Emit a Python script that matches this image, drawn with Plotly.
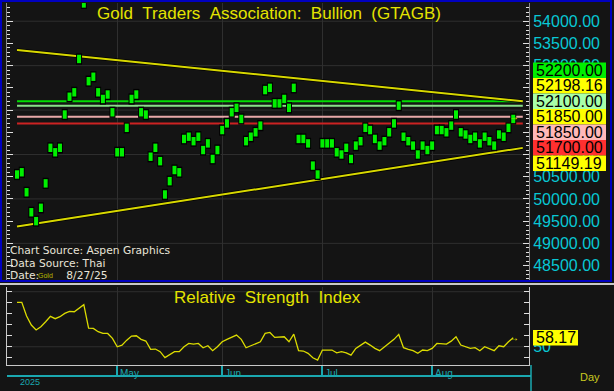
import plotly.graph_objects as go

# ---------------- data ----------------
# trading-day slots (index 0 = early April 2025, last = 8/27/25)
price = [50550, 50600, 50150, 49700, 49500, 49800, 50350, 51150, 51050, 51150,
         51900, 52300, 52400, 53150, 54400, 52650, 52750, 52400, 52250, 52350,
         51950, 51050, 51050, 51600, 52250, 52350, 51950, 51900, 50950, 51150,
         50850, 50100, 50400, 50650, 50600, 51350, 51400, 51300, 51400, 51100,
         51250, 50900, 51100, 51550, 51700, 51950, 52050, 51800, 51300, 51400,
         51500, 51650, 52450, 52500, 52150, 52150, 52250, 52050, 52500, 51350,
         51350, 51250, 50750, 50550, 51250, 51250, 51250, 51050, 51000, 51150,
         50900, 51200, 51300, 51600, 51550, 51350, 51200, 51300, 51500, 51700,
         52100, 51400, 51300, 51200, 51000, 51200, 51100, 51200, 51550, 51550,
         51500, 51650, 51900, 51500, 51450, 51350, 51400, 51250, 51400, 51300,
         51200, 51450, 51400, 51600, 51800]

rsi = [90.4, 90.4, 77.9, 69.7, 65.2, 68.2, 72.7, 77.6, 75.5, 77.3,
       80.3, 82.1, 81.8, 85.1, 88.2, 67.0, 66.7, 63.7, 62.1, 62.1,
       57.6, 50.0, 51.5, 56.0, 59.7, 60.0, 56.7, 55.2, 47.6, 47.9,
       45.5, 40.1, 42.5, 45.5, 45.5, 50.0, 53.0, 52.4, 53.0, 49.1,
       50.9, 46.4, 50.0, 54.5, 56.7, 58.5, 60.6, 56.7, 49.1, 50.9,
       52.4, 54.5, 62.1, 63.0, 58.5, 58.5, 59.1, 54.5, 61.5, 46.4,
       46.1, 44.0, 40.0, 37.9, 47.0, 47.0, 47.0, 44.5, 45.5, 44.5,
       42.4, 48.5, 51.5, 54.2, 51.5, 48.5, 46.4, 50.0, 53.0, 56.7,
       61.2, 49.1, 47.6, 46.4, 44.0, 47.0, 46.4, 48.5, 53.0, 53.0,
       52.4, 55.1, 59.1, 51.5, 50.0, 48.5, 49.1, 46.4, 50.0, 48.5,
       46.4, 50.9, 50.0, 54.5, 58.17]

slots = list(range(len(price)))

month_slots = [21, 43, 64, 87]
month_labels = ["May", "Jun", "Jul", "Aug"]

level_values = [52200.00, 52100.00, 51850.00, 51700.00]
level_colors = ["#00dd00", "#88e088", "#e8a8a8", "#cc2222"]
level_box_colors = ["#00ee00", "#a8ffa8", "#ffb8b8", "#ff3030"]
line_span = [0, 106]

trend_slots = [0, 106]
upper_trend = [53350.00, 52198.16]
lower_trend = [49380.00, 51149.19]

last_price = 51850.00
last_rsi = 58.17

rsi_ticks = [40, 50, 60, 70, 80, 90, 100]
rsi_ticktext = ["", "50", "", "", "", "", ""]
rsi_grid = [50, 100]
price_grid = [49000, 50000, 51000, 52000, 53000, 54000]

title_text = "Gold\u00a0\u00a0Traders\u00a0\u00a0Association:\u00a0\u00a0Bullion\u00a0\u00a0(GTAGB)"
rsi_title = "Relative\u00a0\u00a0Strength\u00a0\u00a0Index"
source_lines = ["Chart Source: Aspen Graphics", "Data Source: Thai", "Date:\u00a0\u00a0\u00a0\u00a0\u00a0\u00a0\u00a0\u00a08/27/25"]

# ---------------- style ----------------
W, H = 614, 391
def px(x): return x / W
def py(y): return 1 - y / H

BG = "#141414"
GRID = "#2f2f2f"
CYAN = "#08c8d4"
YEL = "#e4e400"
TEAL = "#1aa8b0"
FONT = "Liberation Sans, Arial, sans-serif"

fig = go.Figure()

# horizontal level lines
for v, c in zip(level_values, level_colors):
    fig.add_trace(go.Scatter(x=line_span, y=[v, v], mode="lines",
                             line=dict(color=c, width=2), hoverinfo="skip",
                             xaxis="x", yaxis="y"))
# trendlines (dark shadow + yellow)
for tr in (upper_trend, lower_trend):
    fig.add_trace(go.Scatter(x=trend_slots, y=tr, mode="lines",
                             line=dict(color="#000000", width=3.5), hoverinfo="skip",
                             xaxis="x", yaxis="y"))
    fig.add_trace(go.Scatter(x=trend_slots, y=tr, mode="lines",
                             line=dict(color="#d8d800", width=2), hoverinfo="skip",
                             xaxis="x", yaxis="y"))
# price marks
fig.add_trace(go.Scatter(x=slots, y=price, mode="markers", cliponaxis=True,
                         marker=dict(symbol="line-ns", size=8, color="#000000",
                                     line=dict(color="#000000", width=6)),
                         hoverinfo="skip", xaxis="x", yaxis="y"))
fig.add_trace(go.Scatter(x=slots, y=price, mode="markers", cliponaxis=True,
                         marker=dict(symbol="line-ns", size=6, color="#00f000",
                                     line=dict(color="#00f000", width=4)),
                         xaxis="x", yaxis="y"))
# RSI
fig.add_trace(go.Scatter(x=slots, y=rsi, mode="lines",
                         line=dict(color="#dcdc00", width=1.3),
                         xaxis="x2", yaxis="y2"))

shapes = []
# grid lines
for g in price_grid:
    shapes.append(dict(type="line", xref="paper", yref="y", x0=px(7), x1=px(529),
                       y0=g, y1=g, line=dict(color=GRID, width=1), layer="below"))
for g in rsi_grid:
    shapes.append(dict(type="line", xref="paper", yref="y2", x0=px(7), x1=px(529),
                       y0=g, y1=g, line=dict(color=GRID, width=1), layer="below"))

# label boxes, stacked around the last price
box_h = 15.5 * (54410 - 48175) / 277.0
stack = [
    (level_values[0], level_box_colors[0]),
    (upper_trend[-1], "#ffff00"),
    (level_values[1], level_box_colors[1]),
    (last_price, "#ffff00"),
    (level_values[2], level_box_colors[2]),
    (level_values[3], level_box_colors[3]),
    (lower_trend[-1], "#ffff00"),
]
annotations = []
anchor_idx = 3
for i, (val, col) in enumerate(stack):
    cy = last_price + (anchor_idx - i) * box_h
    shapes.append(dict(type="rect", xref="paper", yref="y", x0=px(533), x1=px(606),
                       y0=cy - box_h / 2, y1=cy + box_h / 2,
                       fillcolor=col, line=dict(width=0), layer="above"))
    annotations.append(dict(xref="paper", yref="y", x=px(534), y=cy, xanchor="left",
                            yanchor="middle", text=f"{val:.2f}", showarrow=False,
                            font=dict(family=FONT, size=16, color="#000000")))

# RSI label box
rh = 15.5 * (104.3 - 33.4) / 78.0
shapes.append(dict(type="rect", xref="paper", yref="y2", x0=px(533), x1=px(578),
                   y0=last_rsi - rh / 2, y1=last_rsi + rh / 2,
                   fillcolor="#ffff00", line=dict(width=0), layer="above"))
annotations.append(dict(xref="paper", yref="y2", x=px(534), y=last_rsi, xanchor="left",
                        yanchor="middle", text=f"{last_rsi:.2f}", showarrow=False,
                        font=dict(family=FONT, size=16, color="#000000")))

# arrows
annotations.append(dict(xref="paper", yref="y", x=px(521), y=last_price, text="\u2192",
                        showarrow=False, font=dict(family=FONT, size=10, color=YEL)))
annotations.append(dict(xref="paper", yref="y2", x=px(521), y=last_rsi, text="\u2192",
                        showarrow=False, font=dict(family=FONT, size=10, color=YEL)))

# titles
annotations.append(dict(xref="paper", yref="paper", x=px(269), y=py(14), text=title_text,
                        showarrow=False, xanchor="center", yanchor="middle",
                        font=dict(family=FONT, size=17, color=YEL)))
annotations.append(dict(xref="paper", yref="paper", x=px(267), y=py(297), text=rsi_title,
                        showarrow=False, xanchor="center", yanchor="middle",
                        font=dict(family=FONT, size=17, color=YEL)))
# source text
for i, t in enumerate(source_lines):
    annotations.append(dict(xref="paper", yref="paper", x=px(8), y=py(251 + 12.3 * i),
                            text=t, showarrow=False, xanchor="left", yanchor="middle",
                            font=dict(family="DejaVu Sans, sans-serif", size=10.7,
                                      color="#e8e4d8")))
annotations.append(dict(xref="paper", yref="paper", x=px(36), y=py(275), text="Gold",
                        showarrow=False, xanchor="left", yanchor="middle",
                        font=dict(family=FONT, size=7, color="#b8b800")))

# month labels
for s, lab in zip(month_slots, month_labels):
    annotations.append(dict(xref="x2", yref="paper", x=s, y=py(373), text=lab,
                            showarrow=False, xanchor="left", yanchor="middle", xshift=1,
                            font=dict(family=FONT, size=10, color=TEAL)))
annotations.append(dict(xref="paper", yref="paper", x=px(18), y=py(382), text="2025",
                        showarrow=False, xanchor="left", yanchor="middle",
                        font=dict(family=FONT, size=9, color=TEAL)))
annotations.append(dict(xref="paper", yref="paper", x=px(578), y=py(377), text="Day",
                        showarrow=False, xanchor="left", yanchor="middle",
                        font=dict(family=FONT, size=11, color="#c8c820")))

# frames
shapes += [
    dict(type="rect", xref="paper", yref="paper", x0=px(1), x1=px(611), y0=py(281), y1=py(1),
         line=dict(color="#0000c0", width=2), layer="above"),
    dict(type="line", xref="paper", yref="paper", x0=0, x1=1, y0=py(284), y1=py(284),
         line=dict(color="#c8c8c8", width=2)),
    dict(type="line", xref="paper", yref="paper", x0=px(7), x1=px(531), y0=py(376), y1=py(376),
         line=dict(color=TEAL, width=2)),
    dict(type="line", xref="paper", yref="paper", x0=px(531), x1=px(531), y0=py(365), y1=0,
         line=dict(color=TEAL, width=1.5)),
]

fig.update_layout(
    width=W, height=H, margin=dict(l=0, r=0, t=0, b=0),
    paper_bgcolor=BG, plot_bgcolor=BG, showlegend=False,
    shapes=shapes, annotations=annotations,
    xaxis=dict(domain=[px(7), px(529)], range=[-2.1, 107.3], anchor="y",
               tickvals=month_slots, showticklabels=False, ticks="",
               showgrid=True, gridcolor=GRID, zeroline=False, showline=False),
    yaxis=dict(domain=[py(280), py(3)], range=[48175, 54410], anchor="x", side="right",
               tick0=0, dtick=500, tickformat=".2f", ticks="inside", ticklen=6,
               tickcolor="#e0e0e0", showline=True, linecolor="#8a8a8a", mirror="ticks",
               minor=dict(dtick=100, ticks="inside", ticklen=3, tickcolor="#e0e0e0",
                          showgrid=False),
               showgrid=False, zeroline=False, automargin=False,
               tickfont=dict(family=FONT, size=16, color=CYAN)),
    xaxis2=dict(domain=[px(7), px(529)], range=[-2.1, 107.3], anchor="y2", matches="x",
                tickvals=month_slots, showticklabels=False, ticks="outside", ticklen=11,
                tickcolor=TEAL, tickwidth=1.5, showgrid=True, gridcolor=GRID,
                zeroline=False, showline=True, linecolor="#c8c8c8"),
    yaxis2=dict(domain=[py(365), py(287)], range=[33.4, 104.3], anchor="x2", side="right",
                tickvals=rsi_ticks, ticktext=rsi_ticktext, ticks="inside", ticklen=5,
                tickcolor="#e0e0e0", showline=True, linecolor="#c8c8c8", mirror="ticks",
                showgrid=False, zeroline=False, automargin=False,
                tickfont=dict(family=FONT, size=16, color=CYAN)),
)

fig.write_html("out.html", config={"displayModeBar": False},
               post_script="document.body.style.margin='0';document.body.style.background='#141414';")
